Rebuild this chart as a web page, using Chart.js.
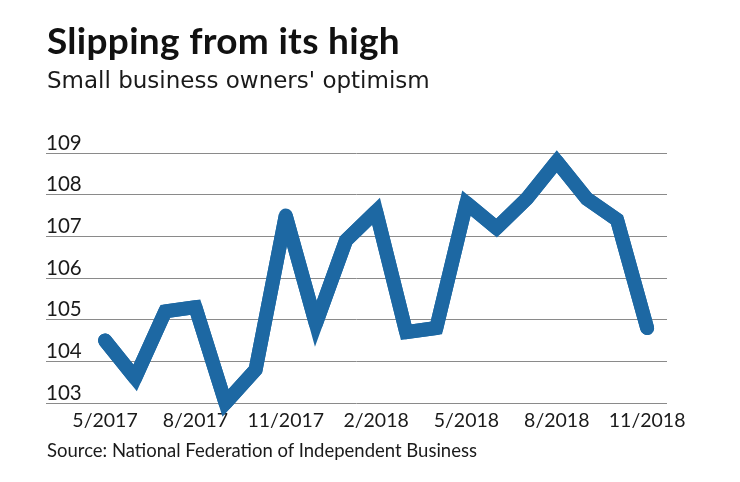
<!DOCTYPE html>
<html>
<head>
<meta charset="utf-8">
<script src="https://cdn.jsdelivr.net/npm/chart.js@4/dist/chart.umd.min.js"></script>
<style>
  html, body { margin: 0; padding: 0; background: #ffffff; }
  #wrap { position: relative; width: 740px; height: 482px; overflow: hidden; }
  #c { position: absolute; left: 0; top: 0; }
  .txt { position: absolute; left: 47px; white-space: nowrap; color: #111; line-height: 1; }
  #title { top: 21px; font-family: Lato, "Open Sans", sans-serif; font-weight: 700; font-size: 37px; letter-spacing: 0.3px; }
  #subtitle { top: 69px; font-family: "DejaVu Sans", sans-serif; font-size: 23px; color: #1a1a1a; }
  #source { top: 441px; font-family: Lato, "Open Sans", sans-serif; font-size: 18.5px; color: #1a1a1a; }
</style>
</head>
<body>
<div id="wrap">
  <canvas id="c" width="740" height="482"></canvas>
  <div id="title" class="txt">Slipping from its high</div>
  <div id="subtitle" class="txt">Small business owners' optimism</div>
  <div id="source" class="txt">Source: National Federation of Independent Business</div>
</div>
<script>
const months = ["5/2017","6/2017","7/2017","8/2017","9/2017","10/2017","11/2017","12/2017",
                "1/2018","2/2018","3/2018","4/2018","5/2018","6/2018","7/2018","8/2018",
                "9/2018","10/2018","11/2018"];
const optimism = [104.5, 103.6, 105.2, 105.3, 103.0, 103.8, 107.5, 104.9,
                  106.9, 107.6, 104.7, 104.8, 107.8, 107.2, 107.9, 108.8,
                  107.9, 107.4, 104.8];
const xTickLabels = ["5/2017","8/2017","11/2017","2/2018","5/2018","8/2018","11/2018"];
const yTicks = [103, 104, 105, 106, 107, 108, 109];

const points = optimism.map((v, i) => ({ x: i, y: v }));
const xTickIdx = xTickLabels.map(l => months.indexOf(l));
const lineColor = '#1d68a3';

// limit very sharp miter spikes (those corners fall back to bevel, covered by the round-join copy)
const miterPlugin = {
  id: 'miterLimit',
  beforeDatasetDraw(chart) { chart.ctx.miterLimit = 3.8; }
};

const baseDs = {
  data: points,
  borderColor: lineColor,
  borderWidth: 14,
  borderCapStyle: 'round',
  pointRadius: 0,
  pointHoverRadius: 0,
  tension: 0,
  fill: false,
  clip: false
};

new Chart(document.getElementById('c'), {
  type: 'line',
  data: {
    datasets: [
      Object.assign({}, baseDs, { borderJoinStyle: 'miter' }),
      Object.assign({}, baseDs, { borderJoinStyle: 'round' })
    ]
  },
  plugins: [miterPlugin],
  options: {
    responsive: false,
    animation: false,
    events: [],
    layout: { padding: { left: 46, right: 73, top: 153, bottom: 49 } },
    plugins: { legend: { display: false }, tooltip: { enabled: false }, title: { display: false } },
    scales: {
      x: {
        type: 'linear',
        min: -1.96,
        max: 18.66,
        grid: { display: false },
        border: { display: false },
        afterBuildTicks: (s) => { s.ticks = xTickIdx.map(v => ({ value: v })); },
        afterFit: (s) => { s.height = 30; },
        ticks: {
          autoSkip: false,
          maxRotation: 0,
          padding: -2,
          color: '#1a1a1a',
          font: { family: 'Lato, "Open Sans", sans-serif', size: 19.5 },
          callback: (v) => months[v]
        }
      },
      y: {
        min: 103,
        max: 109,
        afterBuildTicks: (s) => { s.ticks = yTicks.map(v => ({ value: v })); },
        afterFit: (s) => { s.width = 0; },
        grid: { color: '#8a8a8a', lineWidth: 1, drawTicks: false },
        border: { display: false },
        ticks: {
          mirror: true,
          padding: 0,
          labelOffset: -10,
          color: '#1a1a1a',
          font: { family: 'Lato, "Open Sans", sans-serif', size: 20.5 }
        }
      }
    }
  }
});
</script>
</body>
</html>
